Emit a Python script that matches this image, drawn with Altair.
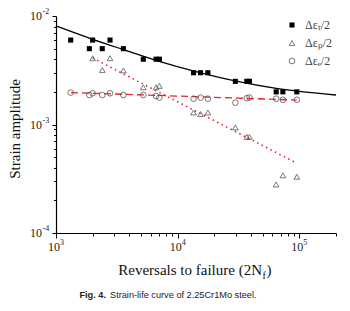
import altair as alt
import pandas as pd

# ---- data ----
total_x = [1320, 1880, 2000, 2400, 2780, 3580, 5220, 6640, 7070, 13500, 15400, 17700,
           29800, 37000, 38900, 64500, 73200, 95300]
total_y = [0.0060, 0.0050, 0.0060, 0.0050, 0.0060, 0.0050, 0.0040, 0.0040, 0.0040,
           0.0030, 0.0030, 0.0030, 0.0025, 0.0025, 0.0025, 0.0020, 0.0020, 0.0020]

elastic_x = total_x
elastic_y = [0.00197, 0.00187, 0.00194, 0.00187, 0.00194, 0.00187, 0.00187, 0.00183, 0.00177,
             0.00173, 0.00177, 0.00173, 0.00159, 0.00175, 0.00177, 0.00173, 0.00169, 0.00169]

plastic_x = [2000, 2400, 2780, 3580, 5220, 6640, 7070, 13500, 15400, 17700,
             29800, 37000, 38900, 64500, 73200, 95300]
plastic_y = [0.00408, 0.00318, 0.00408, 0.00315, 0.00220, 0.00220, 0.00227, 0.00129, 0.00125,
             0.00129, 0.00094, 0.00077, 0.00077, 0.00028, 0.00034, 0.00033]

total_fit_x = [1000, 2000, 3580, 7170, 13400, 29600, 64500, 200000]
total_fit_y = [0.0081, 0.0061, 0.0049, 0.0038, 0.00312, 0.00252, 0.00215, 0.00187]

elastic_fit_x = [1330, 95300]
elastic_fit_y = [0.00197, 0.00168]

plastic_fit_x = [2000, 95300]
plastic_fit_y = [0.0041, 0.00044]

x_major = [1000, 10000, 100000]
x_major_exp = ["3", "4", "5"]
x_minor = [2000, 3000, 4000, 5000, 6000, 7000, 8000, 9000,
           20000, 30000, 40000, 50000, 60000, 70000, 80000, 90000, 200000]
y_major = [0.0001, 0.001, 0.01]
y_major_exp = ["-4", "-3", "-2"]
y_minor = [0.0002, 0.0003, 0.0004, 0.0005, 0.0006, 0.0007, 0.0008, 0.0009,
           0.002, 0.003, 0.004, 0.005, 0.006, 0.007, 0.008, 0.009]

legend_labels = ["Δεₜ/2", "Δεₚ/2", "Δεₑ/2"]

SERIF = "Liberation Serif"
RED = "#e8222a"
GRAY = "#555555"

xscale = alt.Scale(type="log", domain=[1000, 200000], nice=False)
yscale = alt.Scale(type="log", domain=[0.0001, 0.01], nice=False)

x_main_axis = alt.Axis(values=x_major, orient="bottom", title=None, grid=False,
                       tickSize=5, tickColor="black", tickWidth=1,
                       domainColor="black", domainWidth=1.2, labels=False)
y_main_axis = alt.Axis(values=y_major, orient="left", title=None, grid=False,
                       tickSize=4, tickColor="black", tickWidth=1,
                       domainColor="black", domainWidth=1.2, labels=False)
x_minor_axis = alt.Axis(values=x_minor, orient="bottom", title=None, grid=False,
                        tickSize=3, tickColor="black", tickWidth=1,
                        domain=False, labels=False)
y_minor_axis = alt.Axis(values=y_minor, orient="left", title=None, grid=False,
                        tickSize=2.5, tickColor="black", tickWidth=1,
                        domain=False, labels=False)

df_total = pd.DataFrame({"x": total_x, "y": total_y})
df_el = pd.DataFrame({"x": elastic_x, "y": elastic_y})
df_pl = pd.DataFrame({"x": plastic_x, "y": plastic_y})
df_tfit = pd.DataFrame({"x": total_fit_x, "y": total_fit_y})
df_efit = pd.DataFrame({"x": elastic_fit_x, "y": elastic_fit_y})
df_pfit = pd.DataFrame({"x": plastic_fit_x, "y": plastic_fit_y})
df_xlab = pd.DataFrame({"x": x_major, "e": x_major_exp, "b": ["10"] * 3})
df_ylab = pd.DataFrame({"y": y_major, "e": y_major_exp, "b": ["10"] * 3})


def X(axis=None):
    return alt.X("x:Q", scale=xscale, axis=axis)


def Y(axis=None):
    return alt.Y("y:Q", scale=yscale, axis=axis)


tfit = alt.Chart(df_tfit).mark_line(color="black", strokeWidth=1.3, interpolate="monotone").encode(
    x=X(x_main_axis), y=Y(y_main_axis))

efit = alt.Chart(df_efit).mark_line(color=RED, strokeWidth=1.3, strokeDash=[7, 4]).encode(
    x=X(), y=Y())

pfit = alt.Chart(df_pfit).mark_line(color=RED, strokeWidth=1.6, strokeDash=[1.5, 3.5]).encode(
    x=X(), y=Y())

tpts = alt.Chart(df_total).mark_square(color="black", size=26, opacity=1).encode(
    x=X(x_minor_axis), y=Y(y_minor_axis))

ppts = alt.Chart(df_pl).mark_point(shape="triangle-up", filled=False, stroke=GRAY,
                                   strokeWidth=0.8, size=32, opacity=1).encode(x=X(), y=Y())

epts = alt.Chart(df_el).mark_point(shape="circle", filled=False, stroke=GRAY,
                                   strokeWidth=0.8, size=32, opacity=1).encode(x=X(), y=Y())

# ---- tick labels (base + superscript) ----
xlab_b = alt.Chart(df_xlab).mark_text(
    align="center", baseline="alphabetic", font=SERIF, fontSize=12, color="#222", dx=-2).encode(
    x=X(), y=alt.value(235), text="b:N")
xlab_e = alt.Chart(df_xlab).mark_text(
    align="left", baseline="alphabetic", font=SERIF, fontSize=8, color="#222", dx=4).encode(
    x=X(), y=alt.value(229), text="e:N")
ylab_b = alt.Chart(df_ylab).mark_text(
    align="right", baseline="middle", font=SERIF, fontSize=12, color="#222").encode(
    x=alt.value(-14), y=Y(), text="b:N")
ylab_e = alt.Chart(df_ylab).mark_text(
    align="left", baseline="middle", font=SERIF, fontSize=8, color="#222", dy=-4).encode(
    x=alt.value(-13.5), y=Y(), text="e:N")

# ---- manual legend ----
one = pd.DataFrame({"k": [0]})
leg_sq = alt.Chart(one).mark_square(color="black", size=26, opacity=1).encode(
    x=alt.value(236), y=alt.value(9))
leg_tri = alt.Chart(one).mark_point(
    shape="triangle-up", filled=False, stroke=GRAY, strokeWidth=0.8, size=32, opacity=1).encode(
    x=alt.value(236), y=alt.value(27))
leg_cir = alt.Chart(one).mark_point(
    shape="circle", filled=False, stroke=GRAY, strokeWidth=0.8, size=32, opacity=1).encode(
    x=alt.value(236), y=alt.value(45))
leg_texts = []
for lab, yy in zip(legend_labels, [9, 27, 45]):
    leg_texts.append(alt.Chart(pd.DataFrame({"t": [lab]})).mark_text(
        align="left", baseline="middle", font=SERIF, fontSize=12, color="#444").encode(
        x=alt.value(249), y=alt.value(yy), text="t:N"))

# ---- titles and caption ----
ytitle = alt.Chart(pd.DataFrame({"t": ["Strain amplitude"]})).mark_text(
    angle=270, align="center", baseline="middle", font=SERIF, fontSize=15, color="#111").encode(
    x=alt.value(-41), y=alt.value(113), text="t:N")
xtitle_a = alt.Chart(pd.DataFrame({"t": ["Reversals to failure (2N"]})).mark_text(
    align="right", baseline="alphabetic", font=SERIF, fontSize=15, color="#111").encode(
    x=alt.value(206), y=alt.value(259), text="t:N")
xtitle_b = alt.Chart(pd.DataFrame({"t": ["f"]})).mark_text(
    align="left", baseline="alphabetic", font=SERIF, fontSize=10, color="#111").encode(
    x=alt.value(206.5), y=alt.value(263), text="t:N")
xtitle_c = alt.Chart(pd.DataFrame({"t": [")"]})).mark_text(
    align="left", baseline="alphabetic", font=SERIF, fontSize=15, color="#111").encode(
    x=alt.value(210.5), y=alt.value(259), text="t:N")
cap_a = alt.Chart(pd.DataFrame({"t": ["Fig. 4."]})).mark_text(
    align="right", baseline="alphabetic", font="Liberation Sans", fontSize=9.2,
    fontWeight="bold", color="#222").encode(
    x=alt.value(50), y=alt.value(282), text="t:N")
cap_b = alt.Chart(pd.DataFrame({"t": ["Strain-life curve of 2.25Cr1Mo steel."]})).mark_text(
    align="left", baseline="alphabetic", font="Liberation Sans", fontSize=9.2, color="#222").encode(
    x=alt.value(54), y=alt.value(282), text="t:N")

chart = alt.layer(
    tfit, efit, pfit, tpts, ppts, epts,
    xlab_b, xlab_e, ylab_b, ylab_e,
    leg_sq, leg_tri, leg_cir, *leg_texts,
    ytitle, xtitle_a, xtitle_b, xtitle_c, cap_a, cap_b
).resolve_axis(x="independent", y="independent").properties(
    width=280, height=217,
    padding={"left": 48, "top": 8, "right": 6, "bottom": 72},
    autosize=alt.AutoSizeParams(type="none"),
    background="white",
).configure_view(stroke=None)

chart.save("out.html", embed_options={"renderer": "svg", "actions": False})
